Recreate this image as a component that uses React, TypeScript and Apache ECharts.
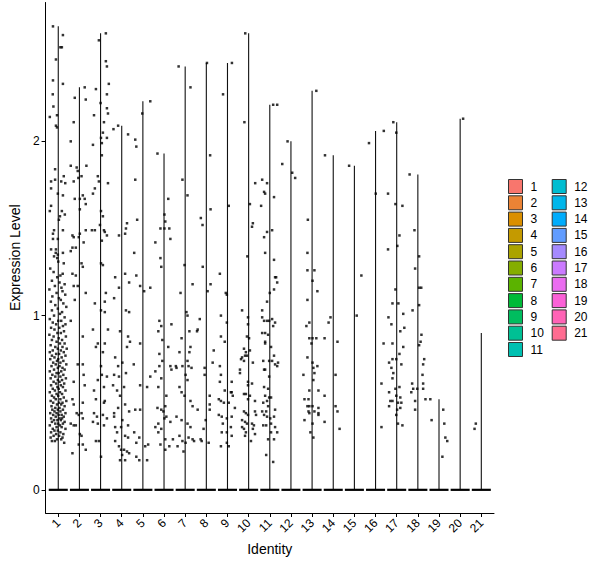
import { useEffect, useRef } from 'react'
import * as echarts from 'echarts'

// cluster identities on the x axis
const clusterLabels = ['1', '2', '3', '4', '5', '6', '7', '8', '9', '10', '11', '12', '13', '14', '15', '16', '17', '18', '19', '20', '21']

// ggplot hue palette, one colour per cluster
const clusterColors = [
  '#F8766D', '#EB8335', '#DA8F00', '#C49A00', '#ABA300', '#85AD00', '#5BB300',
  '#00BA38', '#00BD5F', '#00C094', '#00C0B1', '#00BDD1', '#00B6EB', '#00ACFC',
  '#619CFF', '#A58AFF', '#CB7AFF', '#EA6CF0', '#FB61D7', '#FF63B6', '#FF6C91'
]

// highest expression value per cluster (top of each violin)
const violinMax = [2.66, 2.31, 2.62, 2.09, 2.23, 1.93, 2.43, 2.45, 2.45, 2.62, 2.21, 2.0, 2.29, 1.92, 1.86, 2.06, 2.11, 1.81, 0.52, 2.13, 0.9]

// y ticks
const yTicks = [0, 1, 2]

// non-zero cells per cluster: [jitter offset, expression]
const pts01 = [
  [-0.25, 2.66], [0.22, 2.61], [0.1, 2.54], [0.17, 2.54], [-0.11, 2.47], [-0.25, 2.35], [0.22, 2.33], [-0.26, 2.27], [-0.23, 2.2], [-0.06, 2.15], [-0.4, 2.14], [-0.11, 2.09], [-0.06, 2.08],
  [-0.15, 1.84], [0.26, 1.8], [-0.34, 1.77], [-0.15, 1.78], [0.14, 1.77], [0.33, 1.76], [-0.34, 1.73], [-0.02, 1.7], [0.22, 1.69], [-0.34, 1.63], [-0.4, 1.6], [0.17, 1.6], [0.31, 1.58], [0.08, 1.57], [0.03, 1.55], [0.22, 1.49], [-0.2, 1.49], [-0.25, 1.47], [-0.25, 1.44], [-0.02, 1.44], [-0.11, 1.38], [-0.34, 1.38], [0.22, 1.36], [-0.02, 1.35], [-0.2, 1.34],
  [-0.12, 1.36], [-0.05, 1.33], [0.0, 1.31], [0.26, 1.3], [-0.38, 1.27], [-0.22, 1.25], [0.21, 1.24], [0.1, 1.23], [-0.05, 1.22], [-0.3, 1.2], [0.06, 1.19], [0.3, 1.18], [-0.16, 1.17], [0.15, 1.16], [-0.42, 1.15], [0.2, 1.14], [-0.08, 1.13], [0.33, 1.12], [-0.28, 1.11], [0.03, 1.1], [0.12, 1.09], [-0.35, 1.08], [0.24, 1.07], [-0.14, 1.06], [0.38, 1.05], [-0.02, 1.04], [-0.3, 1.03], [0.18, 1.02], [0.08, 1.01], [-0.2, 1.0], [0.3, 0.99],
  [-0.4, 0.98], [0.0, 0.97], [0.14, 0.97], [-0.26, 0.96], [0.34, 0.95], [-0.1, 0.95], [0.22, 0.94], [-0.34, 0.93], [0.05, 0.93], [-0.18, 0.92], [0.27, 0.91], [-0.04, 0.9], [0.12, 0.9], [-0.42, 0.89], [0.36, 0.88], [-0.22, 0.88], [0.02, 0.87], [0.18, 0.86], [-0.3, 0.86], [-0.08, 0.85], [0.3, 0.84], [0.08, 0.84], [-0.36, 0.83], [-0.14, 0.82], [0.2, 0.82], [0.4, 0.81], [-0.02, 0.81], [-0.26, 0.8], [0.12, 0.8],
  [-0.4, 0.79], [0.26, 0.79], [-0.1, 0.78], [0.04, 0.78], [0.34, 0.77], [-0.3, 0.77], [-0.18, 0.76], [0.16, 0.76], [0.0, 0.75], [-0.38, 0.75], [0.24, 0.74], [-0.06, 0.74], [0.1, 0.73], [-0.24, 0.73], [0.38, 0.72], [-0.12, 0.72], [0.06, 0.71], [-0.32, 0.71], [0.2, 0.7], [-0.02, 0.7], [-0.2, 0.69], [0.3, 0.69], [0.14, 0.68], [-0.4, 0.68], [-0.08, 0.67], [0.02, 0.67], [0.24, 0.66], [-0.28, 0.66], [-0.14, 0.65], [0.1, 0.65], [0.36, 0.64], [-0.36, 0.64], [-0.02, 0.63], [0.18, 0.63], [-0.22, 0.62], [0.06, 0.62],
  [-0.1, 0.61], [0.28, 0.61], [-0.34, 0.6], [0.12, 0.6], [-0.04, 0.59], [0.22, 0.59], [-0.26, 0.58], [0.02, 0.58], [-0.16, 0.57], [0.34, 0.57], [0.08, 0.56], [-0.4, 0.56], [-0.08, 0.55], [0.18, 0.55], [-0.3, 0.54], [0.0, 0.54], [0.26, 0.53], [-0.2, 0.53], [0.1, 0.52], [-0.12, 0.52], [0.38, 0.51], [-0.36, 0.51], [0.04, 0.5], [-0.24, 0.5], [0.2, 0.5], [-0.06, 0.49], [0.14, 0.49], [-0.32, 0.48], [0.3, 0.48], [-0.14, 0.47], [0.06, 0.47], [-0.02, 0.46], [0.22, 0.46], [-0.28, 0.46], [-0.18, 0.45], [0.1, 0.45], [0.34, 0.44], [-0.38, 0.44], [-0.08, 0.44], [0.16, 0.43], [0.02, 0.43], [-0.24, 0.43], [0.26, 0.42], [-0.12, 0.42], [0.06, 0.41], [-0.34, 0.41], [0.18, 0.41], [-0.04, 0.4], [-0.2, 0.4], [0.12, 0.4], [0.3, 0.39], [-0.3, 0.39], [0.0, 0.38], [-0.14, 0.38], [0.22, 0.38], [-0.4, 0.37], [0.08, 0.37], [-0.08, 0.36], [0.16, 0.36], [-0.26, 0.35], [0.34, 0.35], [-0.02, 0.34], [-0.18, 0.34], [0.1, 0.33], [-0.34, 0.33], [0.24, 0.32], [-0.1, 0.32], [0.04, 0.31], [-0.22, 0.31], [0.2, 0.3], [-0.36, 0.3], [-0.06, 0.29], [0.14, 0.29], [-0.3, 0.28], [-0.16, 0.28], [0.28, 0.27]
]
const pts02 = [
  [0.25, 2.31], [-0.22, 2.25], [0.3, 2.24], [-0.27, 2.11], [-0.41, 2.0], [-0.41, 1.86], [-0.13, 1.85], [0.33, 1.86], [-0.08, 1.83], [0.1, 1.8], [-0.05, 1.79], [-0.27, 1.77], [0.16, 1.69], [0.02, 1.67], [0.25, 1.67], [-0.22, 1.67], [0.3, 1.64], [0.02, 1.61], [0.3, 1.49], [-0.33, 1.46], [-0.27, 1.45], [0.02, 1.47], [-0.03, 1.45], [0.2, 1.42], [-0.17, 1.39], [-0.33, 1.39], [-0.41, 1.37],
  [0.1, 1.3], [0.16, 1.28], [-0.33, 1.24], [-0.17, 1.23], [-0.08, 1.17], [-0.27, 1.17], [-0.22, 1.09], [0.3, 1.13], [-0.41, 0.97], [0.16, 0.88], [-0.08, 0.72], [0.16, 0.72], [0.2, 0.66], [-0.27, 0.62], [0.25, 0.6], [-0.33, 0.52], [-0.27, 0.49], [0.16, 0.5], [-0.13, 0.44], [-0.03, 0.43], [-0.41, 0.38], [-0.27, 0.37], [-0.17, 0.37], [0.1, 0.44], [0.16, 0.41], [0.02, 0.32], [0.1, 0.31], [-0.03, 0.26], [0.16, 0.26], [-0.33, 0.21], [0.3, 0.23]
]
const pts03 = [
  [0.25, 2.62], [-0.08, 2.58], [0.25, 2.46], [0.3, 2.43], [0.39, 2.33], [-0.22, 2.3], [0.3, 2.27], [0.0, 2.22], [0.3, 2.19], [0.35, 2.16], [-0.31, 2.15], [0.16, 2.11], [0.11, 2.05], [0.02, 2.02], [0.06, 1.99], [0.3, 2.02], [0.06, 1.92], [-0.36, 1.98], [-0.13, 1.8], [-0.08, 1.77], [0.35, 1.76], [-0.27, 1.73], [-0.36, 1.7], [0.02, 1.6], [0.11, 1.57], [-0.03, 1.52], [-0.41, 1.49], [-0.27, 1.49], [0.16, 1.49], [0.2, 1.48], [0.3, 1.46], [0.06, 1.43],
  [0.02, 1.3], [0.11, 1.29], [-0.27, 1.07], [0.25, 1.13], [0.02, 1.03], [0.2, 1.08], [0.2, 1.02], [-0.36, 0.92], [0.35, 0.92], [-0.13, 0.84], [-0.22, 0.82], [0.2, 0.84], [0.11, 0.79], [0.02, 0.71], [0.3, 0.65], [-0.13, 0.63], [0.06, 0.66], [-0.31, 0.57], [0.16, 0.59], [-0.22, 0.52], [0.2, 0.51], [0.16, 0.5], [-0.31, 0.44], [-0.17, 0.42], [0.11, 0.43], [0.3, 0.41], [-0.36, 0.39], [-0.13, 0.38], [0.16, 0.37], [-0.22, 0.28], [-0.08, 0.28], [0.02, 0.19]
]
const pts04 = [
  [-0.39, 2.07], [-0.17, 2.09], [0.3, 2.04], [0.25, 1.53], [0.2, 1.5], [0.16, 1.47], [-0.13, 1.46],
  [-0.31, 1.22], [-0.13, 1.16], [0.16, 1.24], [0.35, 1.19], [-0.36, 1.1], [0.2, 1.03], [0.35, 1.02], [-0.08, 0.91], [0.3, 0.88], [0.39, 0.85], [0.25, 0.82], [-0.31, 0.76], [-0.17, 0.71], [0.03, 0.73], [-0.36, 0.66], [-0.13, 0.65], [0.2, 0.67], [-0.41, 0.6], [-0.22, 0.57], [0.11, 0.59], [-0.08, 0.54], [0.16, 0.49], [-0.36, 0.44], [-0.17, 0.47], [0.35, 0.45], [-0.36, 0.42], [0.03, 0.4], [-0.31, 0.36], [-0.03, 0.36], [0.3, 0.37], [-0.22, 0.33], [0.16, 0.31], [0.3, 0.3], [-0.31, 0.28], [-0.13, 0.25], [-0.03, 0.23], [0.11, 0.23], [0.25, 0.22], [0.35, 0.21], [-0.08, 0.17], [0.16, 0.17], [0.02, 0.2]
]
const pts05 = [
  [0.35, 2.23], [-0.03, 2.16], [-0.36, 2.01], [-0.31, 1.97], [-0.36, 1.78], [-0.27, 1.55], [-0.41, 1.36],
  [-0.31, 1.23], [-0.13, 1.17], [0.06, 1.14], [0.35, 1.16], [-0.13, 0.84], [-0.43, 0.72], [0.35, 0.65], [-0.13, 0.6], [0.2, 0.59], [-0.36, 0.46], [-0.13, 0.46], [-0.41, 0.33], [-0.17, 0.3], [-0.31, 0.27], [0.11, 0.25], [0.25, 0.26], [-0.17, 0.17], [0.2, 0.17], [-0.31, 0.19]
]
const pts06 = [
  [-0.31, 1.93], [0.2, 1.67], [0.02, 1.58], [0.06, 1.54], [-0.17, 1.5], [0.02, 1.5], [0.25, 1.5], [0.3, 1.44], [-0.41, 1.42], [-0.17, 1.33],
  [-0.13, 1.28], [-0.22, 0.97], [-0.13, 0.94], [0.35, 0.95], [-0.27, 0.91], [-0.08, 0.86], [0.2, 0.82], [-0.22, 0.78], [-0.08, 0.74], [0.3, 0.71], [0.35, 0.69], [-0.22, 0.71], [-0.41, 0.68], [-0.13, 0.64], [-0.27, 0.59], [0.11, 0.54], [-0.31, 0.47], [-0.13, 0.46], [-0.03, 0.45], [0.06, 0.48], [0.02, 0.41], [0.11, 0.42], [0.3, 0.39], [-0.27, 0.38], [-0.41, 0.36], [-0.27, 0.33], [-0.13, 0.35], [0.06, 0.29], [0.25, 0.25], [-0.17, 0.26], [0.06, 0.23], [0.42, 0.29]
]
const pts07 = [
  [-0.31, 2.43], [0.25, 2.31], [-0.13, 1.78], [0.11, 1.69],
  [-0.03, 1.29], [0.35, 1.18], [-0.22, 1.13], [0.06, 1.02], [0.11, 1.0], [0.2, 0.91], [-0.17, 0.87], [0.25, 0.82], [0.2, 0.79], [-0.27, 0.79], [0.11, 0.74], [-0.13, 0.71], [0.16, 0.71], [0.3, 0.7], [-0.41, 0.7], [-0.44, 0.71], [0.02, 0.66], [0.11, 0.63], [-0.27, 0.59], [-0.17, 0.56], [-0.03, 0.54], [0.25, 0.51], [0.35, 0.48], [-0.41, 0.42], [-0.17, 0.4], [0.11, 0.38], [0.25, 0.36], [-0.27, 0.31], [-0.13, 0.28], [0.02, 0.27], [0.16, 0.3], [0.35, 0.29], [0.42, 0.28], [-0.36, 0.25], [-0.08, 0.22]
]
const pts08 = [
  [0.03, 2.45], [0.18, 1.92], [0.2, 1.61], [-0.26, 1.56], [-0.18, 1.52],
  [-0.17, 1.28], [0.2, 1.18], [0.06, 1.14], [-0.31, 0.98], [-0.41, 0.92], [-0.44, 0.91], [0.35, 0.8], [0.3, 0.73], [-0.08, 0.7], [-0.08, 0.66], [0.16, 0.54], [0.16, 0.49], [0.16, 0.46], [-0.41, 0.46], [-0.03, 0.4], [-0.13, 0.35], [-0.27, 0.29], [-0.22, 0.28], [0.11, 0.27]
]
const pts09 = [
  [0.21, 2.45], [-0.21, 2.27], [0.06, 1.63],
  [-0.36, 1.24], [-0.08, 1.13], [-0.03, 1.12], [-0.31, 1.0], [-0.03, 0.96], [-0.31, 0.88], [-0.13, 0.85], [-0.36, 0.71], [-0.31, 0.66], [-0.36, 0.62], [-0.13, 0.57], [0.2, 0.62], [0.16, 0.56], [0.2, 0.56], [0.25, 0.54], [-0.41, 0.52], [-0.31, 0.51], [-0.17, 0.5], [0.06, 0.5], [0.35, 0.47], [-0.41, 0.43], [-0.27, 0.42], [-0.03, 0.41], [0.2, 0.42], [-0.22, 0.38], [0.16, 0.36], [-0.03, 0.33], [-0.27, 0.33], [0.2, 0.31], [-0.03, 0.27], [0.06, 0.25], [-0.31, 0.25]
]
const pts10 = [
  [-0.16, 2.62], [-0.2, 2.11], [0.31, 1.76], [0.06, 1.64], [0.16, 1.51], [0.2, 1.53], [-0.06, 1.34],
  [-0.31, 1.03], [-0.03, 0.99], [-0.03, 0.95], [-0.08, 0.88], [0.02, 0.87], [-0.22, 0.81], [0.06, 0.8], [-0.31, 0.76], [-0.17, 0.77], [-0.08, 0.77], [-0.36, 0.75], [-0.13, 0.79], [-0.22, 0.74], [0.2, 0.73], [-0.41, 0.69], [-0.41, 0.67], [-0.03, 0.62], [-0.03, 0.6], [0.16, 0.61], [-0.22, 0.55], [-0.13, 0.55], [0.06, 0.54], [-0.03, 0.52], [0.3, 0.51], [-0.22, 0.45], [-0.13, 0.44], [-0.03, 0.43], [0.3, 0.45], [0.35, 0.43], [-0.31, 0.4], [-0.17, 0.39], [-0.08, 0.38], [0.16, 0.38], [0.25, 0.37], [-0.31, 0.36], [-0.22, 0.35], [0.2, 0.35], [-0.13, 0.33], [0.3, 0.32], [-0.17, 0.31], [0.11, 0.28]
]
const pts11 = [
  [0.16, 2.21], [0.35, 2.21], [-0.36, 1.78], [-0.13, 1.76], [-0.27, 1.71], [-0.22, 1.7], [0.2, 1.68], [-0.41, 1.63], [-0.27, 1.45], [-0.13, 1.48], [0.11, 1.49], [-0.22, 1.36],
  [0.2, 1.32], [0.25, 1.22], [0.3, 1.22], [0.35, 1.19], [0.2, 1.15], [0.0, 1.13], [-0.13, 1.08], [-0.36, 1.03], [-0.36, 0.99], [-0.27, 0.97], [-0.13, 0.97], [-0.03, 0.97], [0.11, 0.98], [0.25, 0.96], [0.16, 0.94], [-0.36, 0.9], [-0.22, 0.9], [-0.08, 0.89], [-0.22, 0.85], [-0.22, 0.84], [0.06, 0.82], [0.2, 0.77], [-0.31, 0.74], [-0.03, 0.74], [0.11, 0.74], [0.25, 0.72], [0.35, 0.71], [0.39, 0.73], [-0.27, 0.69], [-0.22, 0.69], [-0.03, 0.65], [-0.27, 0.59], [-0.08, 0.58], [-0.22, 0.54], [0.06, 0.53], [-0.03, 0.53], [-0.13, 0.51], [-0.31, 0.5], [-0.08, 0.48], [-0.36, 0.45], [-0.17, 0.45], [-0.27, 0.43], [-0.13, 0.42], [0.02, 0.41], [0.25, 0.46], [0.2, 0.42], [0.06, 0.38], [-0.31, 0.37], [-0.17, 0.37], [0.25, 0.36], [0.06, 0.33], [0.35, 0.33], [-0.08, 0.29], [0.2, 0.29], [-0.17, 0.2], [0.16, 0.16]
]
const pts12 = [[-0.16, 2.0], [-0.41, 1.87], [0.06, 1.82], [0.2, 1.79]]
const pts13 = [
  [0.2, 2.29], [-0.2, 1.55], [-0.22, 1.36], [-0.22, 1.26], [0.11, 1.26], [0.02, 1.2], [0.25, 1.14], [-0.22, 1.09], [-0.13, 0.96], [-0.27, 0.94], [-0.13, 0.87], [0.02, 0.87], [0.2, 0.87], [-0.03, 0.84], [-0.22, 0.76], [0.02, 0.73], [0.06, 0.7], [0.25, 0.71], [0.11, 0.67], [-0.41, 0.66], [0.06, 0.63], [-0.13, 0.57], [0.3, 0.57], [-0.36, 0.52], [-0.17, 0.52], [-0.22, 0.48], [-0.13, 0.48], [0.02, 0.48], [0.11, 0.45], [0.3, 0.47], [0.3, 0.44], [0.3, 0.43], [-0.36, 0.4], [-0.17, 0.45], [-0.13, 0.44], [0.02, 0.38], [-0.08, 0.33], [0.06, 0.3]
]
const pts14 = [[-0.39, 1.92], [-0.13, 0.99], [-0.22, 0.96], [-0.41, 0.87], [-0.41, 0.54], [-0.41, 0.39], [0.11, 0.66], [0.11, 0.48], [0.2, 0.45], [0.3, 0.35], [0.2, 0.85]]
const pts15 = [[-0.25, 1.86], [0.33, 1.23], [0.11, 1.0]]
const pts16 = [[-0.31, 1.99], [0.01, 1.7], [0.39, 2.06], [0.28, 0.61], [0.28, 0.36], [0.38, 0.84]]
const pts17 = [
  [-0.16, 2.11], [-0.02, 2.05], [-0.41, 1.7], [-0.06, 1.64], [0.27, 1.63], [0.13, 1.46], [0.03, 1.4], [-0.41, 1.38],
  [-0.06, 1.15], [-0.2, 1.07], [0.08, 1.07], [0.31, 1.01], [-0.39, 0.99], [-0.25, 0.95], [0.36, 0.93], [0.17, 0.91], [-0.2, 0.84], [0.31, 0.82], [0.13, 0.78], [-0.2, 0.75], [-0.02, 0.75], [-0.36, 0.73], [0.22, 0.72], [-0.25, 0.7], [-0.16, 0.67], [-0.2, 0.64], [-0.06, 0.58], [0.13, 0.59], [-0.36, 0.56], [-0.02, 0.54], [0.17, 0.53], [-0.3, 0.51], [-0.2, 0.51], [0.06, 0.5], [0.22, 0.5], [-0.36, 0.48], [0.17, 0.47], [0.02, 0.46], [-0.02, 0.43], [0.06, 0.38], [0.27, 0.37]
]
const pts18 = [
  [-0.39, 1.81], [-0.16, 1.49], [0.06, 1.34], [-0.13, 1.27], [0.06, 1.16], [0.16, 1.16], [0.06, 1.06], [-0.25, 1.03], [0.17, 0.89], [0.13, 0.85], [0.06, 0.83], [0.3, 0.75], [0.25, 0.72], [0.22, 0.66], [0.25, 0.61], [0.25, 0.58], [-0.27, 0.61], [-0.22, 0.58], [-0.03, 0.58], [-0.31, 0.56], [-0.13, 0.51], [-0.13, 0.46], [0.36, 0.52]
]
const pts19 = [[-0.41, 0.52], [-0.35, 0.4], [0.2, 0.46], [0.25, 0.38], [0.3, 0.3], [0.39, 0.28], [0.16, 0.19]]
const pts20 = [[0.14, 2.13]]
const pts21 = [[-0.26, 0.38], [-0.32, 0.35]]

const pointsByCluster = [pts01, pts02, pts03, pts04, pts05, pts06, pts07, pts08, pts09, pts10, pts11, pts12, pts13, pts14, pts15, pts16, pts17, pts18, pts19, pts20, pts21]

const FONT = "'Liberation Sans', Arial, sans-serif"

function buildOption(): echarts.EChartsOption {
  const violinSeries = clusterLabels.map((label, i) => ({
    type: 'custom' as const,
    name: label,
    itemStyle: { color: clusterColors[i] },
    data: [[i + 1, violinMax[i]]],
    renderItem: (_params: any, api: any) => {
      const cat = api.value(0)
      const top = api.value(1)
      const base = api.coord([cat, 0])
      const peak = api.coord([cat, top])
      const left = api.coord([cat - 0.45, 0])
      const right = api.coord([cat + 0.45, 0])
      return {
        type: 'group',
        children: [
          {
            type: 'line',
            shape: { x1: base[0], y1: base[1], x2: peak[0], y2: peak[1] },
            style: { stroke: '#111', lineWidth: 1.1 }
          },
          {
            type: 'line',
            shape: { x1: left[0], y1: base[1], x2: right[0], y2: base[1] },
            style: { stroke: '#000', lineWidth: 2.2 }
          }
        ]
      }
    }
  }))

  const jitter: number[][] = []
  pointsByCluster.forEach((pts, i) => {
    pts.forEach(([dx, v]) => jitter.push([i + 1 + dx, v]))
  })

  const legendBase = {
    orient: 'vertical' as const,
    top: 179,
    itemWidth: 14,
    itemHeight: 14,
    itemGap: 1.3,
    padding: 0,
    selectedMode: false,
    icon: 'rect',
    itemStyle: { borderColor: '#333', borderWidth: 1 },
    textStyle: { fontSize: 12, color: '#000', fontFamily: FONT, padding: [0, 0, 0, 3] }
  }

  return {
    animation: false,
    backgroundColor: '#fff',
    textStyle: { fontFamily: FONT },
    grid: { left: 43.5, top: 2.5, width: 450.5, height: 510.5 },
    legend: [
      { ...legendBase, left: 508, data: clusterLabels.slice(0, 11) },
      { ...legendBase, left: 551.7, data: clusterLabels.slice(11) }
    ],
    xAxis: {
      type: 'value',
      min: 0.4,
      max: 21.6,
      name: 'Identity',
      nameLocation: 'middle',
      nameGap: 28,
      nameTextStyle: { fontSize: 14, color: '#000', fontFamily: FONT },
      axisLine: { onZero: false, lineStyle: { color: '#000', width: 1 } },
      axisTick: { length: 4, lineStyle: { color: '#000' }, customValues: clusterLabels.map((_, i) => i + 1) },
      axisLabel: {
        customValues: clusterLabels.map((_, i) => i + 1),
        formatter: (v: number) => String(Math.round(v)),
        rotate: 45,
        margin: 8,
        fontSize: 12,
        color: '#000',
        fontFamily: FONT
      },
      splitLine: { show: false }
    },
    yAxis: {
      type: 'value',
      min: -0.133,
      max: 2.797,
      name: 'Expression Level',
      nameLocation: 'middle',
      nameGap: 12,
      nameTextStyle: { fontSize: 14, color: '#000', fontFamily: FONT },
      axisLine: { show: true, onZero: false, lineStyle: { color: '#000', width: 1 } },
      axisTick: { show: true, length: 4, lineStyle: { color: '#000' }, customValues: yTicks },
      axisLabel: { customValues: yTicks, margin: 6, fontSize: 12, color: '#000', fontFamily: FONT },
      splitLine: { show: false }
    },
    series: [
      ...violinSeries,
      {
        type: 'scatter',
        name: 'cells',
        symbol: 'rect',
        symbolSize: 2.5,
        itemStyle: { color: '#000' },
        data: jitter,
        silent: true
      }
    ]
  }
}

export default function App() {
  const chartRef = useRef<HTMLDivElement>(null)

  useEffect(() => {
    const host = chartRef.current
    if (!host) return
    const chart = echarts.init(host, null, { renderer: 'svg' })
    chart.setOption(buildOption())
    return () => {
      chart.dispose()
    }
  }, [])

  return (
    <div
      ref={chartRef}
      style={{ position: 'absolute', left: 0, top: 0, width: 600, height: 568, background: '#fff' }}
    />
  )
}
